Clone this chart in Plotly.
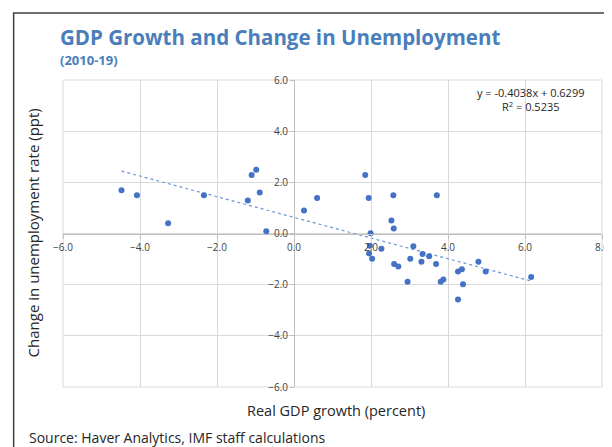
import plotly.graph_objects as go

# Real GDP growth (percent), 2010-19
gdp_growth = [-4.48, -4.08, -3.27, -2.34, -1.20, -1.10, -0.98, -0.89, -0.72,
              0.26, 0.60, 1.85, 1.94, 2.58, 3.71, 2.53, 2.59, 1.99,
              1.97, 1.95, 2.03, 2.27, 3.10, 3.34, 3.51, 3.02, 3.31, 3.69,
              2.60, 2.71, 2.95, 3.81, 3.88, 4.26, 4.36, 4.39, 4.26,
              4.79, 4.98, 6.16]
# Change in unemployment rate (ppt)
unemp_change = [1.69, 1.50, 0.40, 1.50, 1.29, 2.29, 2.49, 1.60, 0.09,
                0.90, 1.39, 2.29, 1.39, 1.50, 1.50, 0.51, 0.20, 0.01,
                -0.48, -0.78, -0.99, -0.60, -0.50, -0.80, -0.89, -0.99, -1.10, -1.19,
                -1.19, -1.29, -1.89, -1.89, -1.80, -1.49, -1.40, -1.98, -2.58,
                -1.10, -1.49, -1.70]

# linear trend reported by Excel
slope = -0.4038
intercept = 0.6299
r_squared = 0.5235

x_ticks = [-6, -4, -2, 0, 2, 4, 6, 8]
y_ticks = [-6, -4, -2, 0, 2, 4, 6]

# the page body has an 8px margin, so lay the figure out in window pixels
OFF = 8
W, H = 612, 447
plot_left, plot_right, plot_top, plot_bottom = 63, 609, 80, 387
ml, mt = plot_left - OFF, plot_top - OFF
mr = W - (plot_right - OFF)
mb = H - (plot_bottom - OFF)
pw, ph = W - ml - mr, H - mt - mb


def px_x(p):
    return (p - OFF - ml) / pw


def px_y(p):
    return (H - mb - (p - OFF)) / ph


blue = "#4472C4"
font = "Open Sans"

trend_x = [min(gdp_growth), max(gdp_growth)]
trend_y = [slope * v + intercept for v in trend_x]

fig = go.Figure()
fig.add_trace(go.Scatter(x=trend_x, y=trend_y, mode="lines",
                         line=dict(color="#6d95d8", width=1.2, dash="dot"),
                         hoverinfo="skip"))
fig.add_trace(go.Scatter(x=gdp_growth, y=unemp_change, mode="markers",
                         marker=dict(color=blue, size=6)))

xr = [x_ticks[0], x_ticks[-1]]
yr = [y_ticks[0], y_ticks[-1]]

fig.update_xaxes(range=xr, tickvals=x_ticks, tickformat=".1f",
                 showgrid=True, gridcolor="#d9d9d9", gridwidth=1,
                 zeroline=False, showline=True, linecolor="#bfbfbf", linewidth=1,
                 ticks="outside", ticklen=4, tickcolor="#bfbfbf",
                 anchor="free", position=(0 - yr[0]) / (yr[1] - yr[0]),
                 tickfont=dict(family=font, size=10, color="#404040"))
fig.update_yaxes(range=yr, tickvals=y_ticks, tickformat=".1f",
                 showgrid=True, gridcolor="#d9d9d9", gridwidth=1,
                 zeroline=False, showline=True, linecolor="#bfbfbf", linewidth=1,
                 ticks="outside", ticklen=4, tickcolor="#bfbfbf",
                 anchor="free", position=(0 - xr[0]) / (xr[1] - xr[0]),
                 tickfont=dict(family=font, size=10, color="#404040"))

fig.update_layout(
    width=W, height=H,
    margin=dict(l=ml, r=mr, t=mt, b=mb),
    paper_bgcolor="white", plot_bgcolor="white",
    showlegend=False,
    font=dict(family=font, color="#262626"),
    shapes=[
        # plot area border
        dict(type="rect", xref="paper", yref="paper", x0=0, y0=0, x1=1, y1=1,
             line=dict(color="#d9d9d9", width=1), layer="below"),
        # outer chart frame
        dict(type="rect", xref="paper", yref="paper",
             x0=px_x(13), x1=px_x(W + 30), y0=px_y(H + 30), y1=px_y(13),
             line=dict(color="#404040", width=1.5)),
    ],
    annotations=[
        dict(text="<b>GDP Growth and Change in Unemployment</b>", xref="paper", yref="paper",
             x=px_x(58), y=px_y(37), xanchor="left", yanchor="middle", showarrow=False,
             font=dict(size=20.5, color="#4a7ebb", family=font)),
        dict(text="<b>(2010-19)</b>", xref="paper", yref="paper",
             x=px_x(58), y=px_y(60), xanchor="left", yanchor="middle", showarrow=False,
             font=dict(size=13, color="#4a7ebb", family=font)),
        dict(text=f"y = {slope}x + {intercept}<br>R<sup>2</sup> = {r_squared}",
             xref="paper", yref="paper", x=px_x(537), y=px_y(99),
             xanchor="center", yanchor="middle", showarrow=False, align="center",
             font=dict(size=11, color="#262626", family=font)),
        dict(text="Real GDP growth (percent)", xref="paper", yref="paper",
             x=px_x(340), y=px_y(410), xanchor="center", yanchor="middle", showarrow=False,
             font=dict(size=14.5, color="#262626", family=font)),
        dict(text="Change in unemployment rate (ppt)", xref="paper", yref="paper",
             x=px_x(33), y=px_y(233), xanchor="center", yanchor="middle", showarrow=False,
             textangle=-90, font=dict(size=15, color="#262626", family=font)),
        dict(text="Source: Haver Analytics, IMF staff calculations", xref="paper", yref="paper",
             x=px_x(27), y=px_y(437), xanchor="left", yanchor="middle", showarrow=False,
             font=dict(size=14, color="#262626", family=font)),
    ],
)

fig.write_html("out.html")
